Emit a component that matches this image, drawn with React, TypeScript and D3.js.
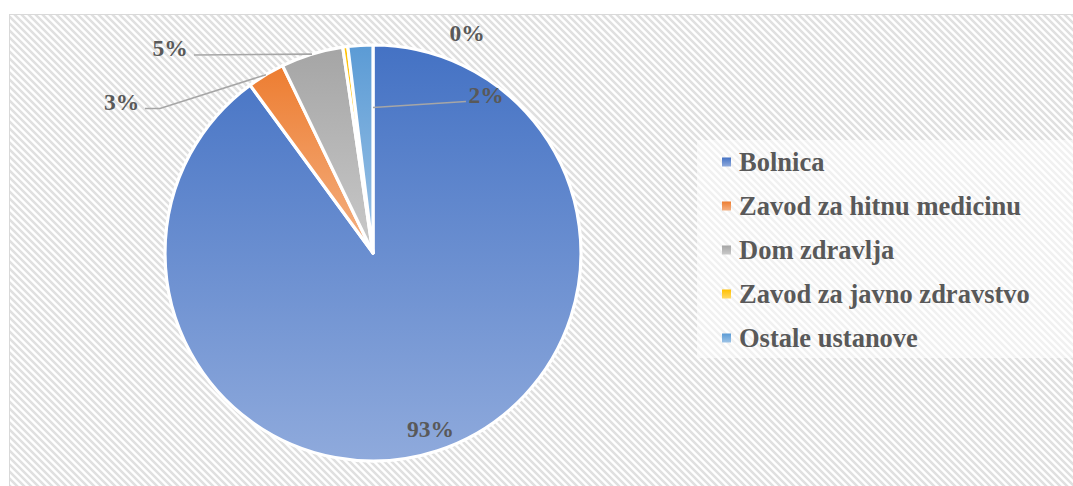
import React from 'react';
import * as d3 from 'd3';

const categories = ['Bolnica', 'Zavod za hitnu medicinu', 'Dom zdravlja', 'Zavod za javno zdravstvo', 'Ostale ustanove'];
const values = [93, 3, 5, 0.4, 2];
const valueLabels = ['93%', '3%', '5%', '0%', '2%'];
const baseColors = ['#4472c4', '#ed7d31', '#a5a5a5', '#ffc000', '#5b9bd5'];
const lightColors = ['#8faadc', '#f4b183', '#c9c9c9', '#ffd966', '#9dc3e6'];

// layout (label centres and leader geometry), not data
const labelPos: ([number, number] | null)[] = [null, [121.5, 101.5], [170, 48], [467, 33], [486, 95]];
const leaderLayout: ([number, number][] | null)[] = [
  null,
  [[145, 108.5], [160, 108.5]],
  [[194, 55]],
  null,
  [[466, 101.5]],
];
const leaderEnd: ([number, number] | null)[] = [null, null, null, null, [373, 107.5]];

const W = 1073, H = 486;
const cx = 373, cy = 253, R = 208;
const FONT = 'Liberation Serif';
const TEXT = '#595959';

export default function App() {
  const pie = d3.pie<number>().sort(null).value(d => d).startAngle(0).endAngle(2 * Math.PI);
  const arcs = pie(values);
  const arcGen = d3.arc<d3.PieArcDatum<number>>().innerRadius(0).outerRadius(R);
  const pointAt = (a: number, r: number): [number, number] => [cx + r * Math.sin(a), cy - r * Math.cos(a)];
  const line = d3.line();

  return (
    <svg width={W} height={H} style={{ position: 'absolute', left: 0, top: 0 }} xmlns="http://www.w3.org/2000/svg">
      <defs>
        <pattern id="hatch" width={7} height={7} patternUnits="userSpaceOnUse">
          <rect width={7} height={7} fill="#ffffff" />
          <path d="M0,0 L7,7 M-1,6 L1,8 M6,-1 L8,1" stroke="#e0e0e0" strokeWidth={2.5} />
        </pattern>
        {baseColors.map((c, i) => (
          <linearGradient key={i} id={`g${i}`} x1="0" y1="0" x2="0" y2="1">
            <stop offset="0" stopColor={c} />
            <stop offset="1" stopColor={lightColors[i]} />
          </linearGradient>
        ))}
      </defs>
      <rect x={0} y={0} width={W} height={H} fill="#ffffff" />
      <rect x={9.5} y={14.5} width={W + 20} height={H + 20} fill="url(#hatch)" stroke="#d9d9d9" strokeWidth={1} />

      <g transform={`translate(${cx},${cy})`}>
        {arcs.map((a, i) => (
          <path key={i} d={arcGen(a) || ''} fill={`url(#g${i})`} stroke="#ffffff" strokeWidth={3.2} strokeLinejoin="round" />
        ))}
      </g>

      {arcs.map((a, i) => {
        const pts = leaderLayout[i];
        if (!pts) return null;
        const mid = (a.startAngle + a.endAngle) / 2;
        const end = leaderEnd[i] || pointAt(mid, R);
        return <path key={i} d={line([...pts, end]) || ''} fill="none" stroke="#a6a6a6" strokeWidth={1.6} />;
      })}

      {arcs.map((a, i) => {
        const mid = (a.startAngle + a.endAngle) / 2;
        const p = labelPos[i] || pointAt(mid, R * 0.89);
        return (
          <text key={i} x={p[0]} y={p[1]} textAnchor="middle" dominantBaseline="central"
            style={{ fontFamily: FONT, fontWeight: 700, fontSize: 23.5 }} fill={TEXT}>{valueLabels[i]}</text>
        );
      })}

      <rect x={697} y={140} width={376} height={218} fill="#ffffff" fillOpacity={0.55} />
      {categories.map((c, i) => {
        const y = 162 + i * 44;
        return (
          <g key={i}>
            <rect x={722} y={y - 4.5} width={9} height={9} fill={`url(#g${i})`} />
            <text x={739} y={y} dominantBaseline="central" style={{ fontFamily: FONT, fontWeight: 700, fontSize: 26.5 }} fill={TEXT}>{c}</text>
          </g>
        );
      })}
    </svg>
  );
}
